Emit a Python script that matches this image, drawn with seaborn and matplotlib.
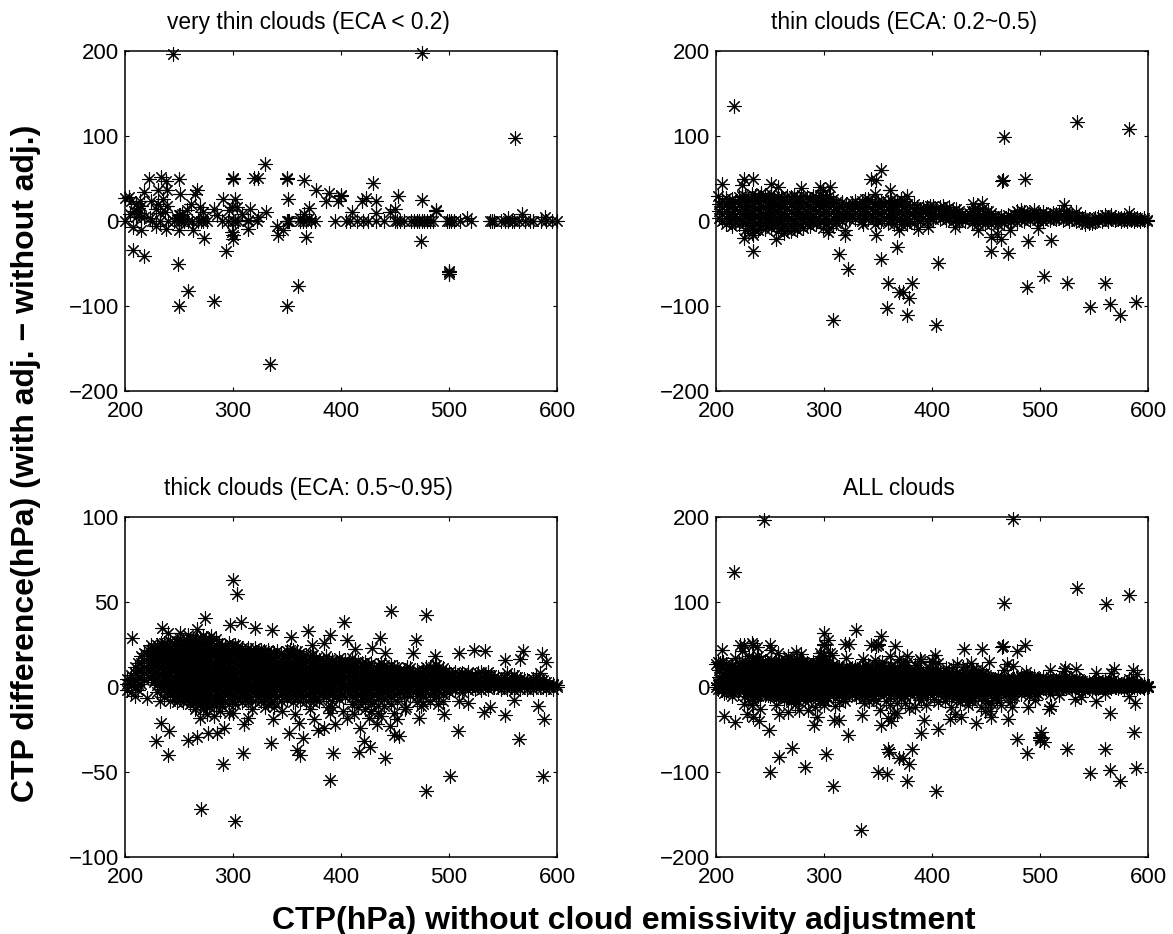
import matplotlib
matplotlib.use('Agg')
import matplotlib.pyplot as plt
import pandas as pd
import seaborn as sns

# very thin clouds
vthin_x = [244.5, 475, 561.5, 330, 222.5, 233, 238, 250, 300, 300, 319.5, 323.6, 350, 350, 366, 376.4, 389, 400, 400, 386, 397,
           430, 423, 419, 432, 453, 475, 488, 488, 410, 432, 445.6, 450, 331, 370, 350.5, 316, 323.6, 516.7, 567.7, 589, 555,
           207, 217.3, 249, 258, 250, 282, 334.4, 360, 350, 500, 500, 500, 474.4, 368, 293.6, 273, 300, 300, 299, 342, 346, 340.6,
           314, 263, 215, 207.7, 229, 238, 250,
           200, 204, 210, 212, 208, 215, 205, 210, 218, 213, 206, 214, 217.6, 224, 231, 238.6, 231, 235.5, 238.6, 232, 229, 237,
           251, 267, 265, 261, 269.5, 257, 272.6, 282, 285, 291, 302, 299, 296, 303.5, 308, 314, 251, 248, 250, 252.5, 272.6, 223, 215,
           362, 366, 370]
vthin_y = [197, 197.6, 97.6, 67, 50, 52, 47, 50, 50, 51, 51, 50.6, 50, 51, 48.6, 36, 33, 30, 31, 23, 23.5,
           44.7, 27, 23, 23, 29.4, 24.7, 12, 13, 10.6, 10, 10.6, 13.7, 10.6, 15.7, 25.5, 14.5, 4.7, 3, 8, 5, 3.5,
           -33.7, -41.6, -50, -82, -100, -93.7, -168, -77, -100, -59, -62, -60, -23, -19, -35, -20, -21, -17, -13, -16, -10, -6,
           -9, -11, -10, -7, -6, -9, -10,
           27, 28, 20, 15, 12, 18, 8, 5, 5, 10, 24, 24, 34, 24, 36, 37, 20, 26, 18, 10, 14.5, 10.6,
           32, 36, 32, 20, 16, 12.5, 10.6, 14.5, 6.7, 26, 26, 17, 12.5, 16.5, 8.6, 1, 6.7, 3, 7, 8.6, 3, 3, 5,
           3, 8, 3]
vthin_zero_x = [200, 225, 232, 240, 245, 250, 252, 255, 258, 262, 268, 270, 272, 276, 290, 295, 300, 302, 305, 314, 322, 350, 351, 352,
                362, 365, 368, 372, 376, 394, 405, 408, 415, 420, 425, 432, 440, 450, 452, 455, 458, 465, 468, 470, 472, 475, 477,
                480, 482, 485, 498, 500, 502, 505, 510, 520, 538, 540, 542, 548, 552, 555, 558, 560, 565, 570, 575, 578, 585, 590, 595, 600]

# thin clouds, single points away from the band
thin_x = [216.7, 466.7, 534, 582, 465.4, 464.8, 486, 352.4, 343.5, 348, 361, 347, 376.5, 206, 226, 234, 224, 251, 257, 278.7, 296, 306, 299.4,
          202, 522, 438, 446, 533, 582.6,
          226, 234, 234, 255.5, 314, 322, 319.4, 319, 304, 336, 348, 369, 368, 353, 359, 381.5, 369, 373, 379, 358.6, 376.5, 403.7, 406, 308.6,
          455, 455, 470, 463.5, 460, 488.5, 510, 488, 503.7, 524.6, 560, 546.6, 565, 574, 589, 387, 396.6, 421, 472, 498, 443]
thin_y = [135, 99, 117, 108.6, 48, 47, 50, 60, 49, 48, 37, 32, 30, 43, 50, 50, 42, 44, 40, 39, 40, 40, 36,
          30, 18.4, 20, 21, 10.6, 10,
          -20, -16, -35, -21, -39, -57, -16, -11, -13, -4, -16, -10, -31, -45, -73, -73, -84, -84, -90, -102, -111, -122, -49, -116,
          -19, -35, -38, -21, -15, -24, -22, -78, -65, -73, -73, -101, -98, -111, -95, -9, -7, -7, -10, -8, -11]
thin_band = [
    (203, [4, 12, 20]), (209, [-4, 4, 12, 20, 27]), (215, [-6, 2, 10, 18, 26]), (221, [-4, 4, 12, 20, 28]),
    (227, [-10, -2, 6, 14, 22, 30]), (233, [-14, -6, 2, 10, 18, 26, 32]), (239, [-10, -2, 6, 14, 22, 30]),
    (245, [-9, -1, 7, 15, 23, 31]), (251, [-8, 0, 8, 16, 24, 32]), (257, [-12, -4, 4, 12, 20, 28]),
    (263, [-14, -6, 2, 10, 18, 26]), (269, [-12, -4, 4, 12, 20, 28]), (275, [-10, -2, 6, 14, 22, 28]),
    (281, [-8, 0, 8, 16, 24, 30]), (287, [-6, 2, 10, 18, 26]), (293, [-4, 4, 12, 20, 28]),
    (299, [-8, 0, 8, 16, 24, 30]), (305, [-8, 0, 8, 16, 24, 30]), (311, [-2, 6, 14, 22]), (317, [0, 8, 16, 22]),
    (323, [2, 10, 18]), (329, [2, 10, 18, 24]), (335, [0, 8, 16, 24]), (341, [2, 10, 18, 26]), (347, [-4, 4, 12, 20]),
    (353, [0, 8, 16, 24]), (359, [-2, 6, 14, 22]), (365, [-3, 5, 13, 21]), (371, [-4, 4, 12, 20, 26]), (377, [-4, 4, 12, 20]),
    (383, [-2, 6, 14, 20]), (389, [0, 8, 14]), (395, [0, 8, 16]), (401, [2, 10, 18]), (407, [2, 10, 16]), (413, [1, 8, 14]),
    (419, [0, 6, 12]), (425, [-1, 6, 12]), (431, [0, 6]), (437, [-2, 5, 12]), (443, [-3, 4, 12]), (449, [-4, 3, 10]),
    (455, [-3, 4, 10]), (461, [-4, 3]), (467, [-2, 4]), (473, [0, 5]), (479, [-1, 6, 12]), (485, [0, 6, 11]), (491, [1, 7]),
    (497, [1, 6]), (503, [0, 6, 11]), (509, [1, 7]), (515, [2, 8]), (521, [1, 7]), (527, [0, 6]), (533, [0, 5]),
    (539, [-1, 4]), (545, [-2, 2]), (551, [-1, 3]), (557, [0, 5]), (563, [0, 5]), (569, [1, 5]), (575, [0, 3]),
    (581, [0, 4]), (587, [0, 3]), (593, [0, 2]), (599, [0, 1]),
]
# second pass over the same band, between the columns above
thin_band2 = [
    (206, [0, 8, 16, 24]), (212, [0, 8, 16, 24]), (218, [-2, 6, 14, 22]), (224, [0, 8, 16, 24, 30]),
    (230, [-6, 2, 10, 18, 26]), (236, [-10, -2, 6, 14, 22, 30]), (242, [-6, 2, 10, 18, 26, 33]),
    (248, [-5, 3, 11, 19, 27]), (254, [-4, 4, 12, 20, 28]), (260, [-8, 0, 8, 16, 24, 30]),
    (266, [-10, -2, 6, 14, 22, 29]), (272, [-8, 0, 8, 16, 24, 30]), (278, [-6, 2, 10, 18, 26]),
    (284, [-4, 4, 12, 20, 28]), (290, [-2, 6, 14, 22, 29]), (296, [0, 8, 16, 24, 31]),
    (302, [-4, 4, 12, 20, 27]), (308, [-4, 4, 12, 20, 26]), (314, [2, 10, 18]), (320, [4, 12, 20]),
    (326, [6, 14, 21]), (332, [6, 14, 20]), (338, [4, 12, 20, 26]), (344, [6, 14, 22]), (350, [0, 8, 16, 23]),
    (356, [4, 12, 20]), (362, [2, 10, 18, 25]), (368, [1, 9, 17, 24]), (374, [0, 8, 16, 23]), (380, [0, 8, 16]),
    (386, [2, 10, 17]), (392, [4, 11, 17]), (398, [4, 12, 18]), (404, [6, 14]), (410, [5, 12, 18]), (416, [4, 10, 16]),
    (422, [3, 9, 14]), (428, [2, 8]), (434, [3, 9]), (440, [1, 8, 15]), (446, [0, 7, 14]), (452, [0, 6, 12]),
    (458, [0, 6]), (464, [0, 6]), (470, [2, 7]), (476, [2, 8]), (482, [2, 8, 13]), (488, [3, 9]), (494, [3, 9, 13]),
    (500, [3, 8]), (506, [3, 8]), (512, [4, 10]), (518, [4, 10]), (524, [3, 8, 12]), (530, [2, 7]), (536, [1, 5]),
    (542, [-3, 1, 5]), (548, [-2, 1]), (554, [1, 5]), (560, [2, 7]), (566, [2, 7]), (572, [2, 4]), (578, [1, 4]),
    (584, [1, 5]), (590, [1, 4]), (596, [1, 3]),
]

# thick clouds, single points around the band
thick_x = [300, 303.5, 274, 446.6, 478.4, 403, 307, 297, 234.6, 320, 336, 369, 266.4, 206.8, 390, 405.5, 436, 469.8, 353.6, 523.5, 533, 509, 568.6,
           586, 590, 552, 565.6, 467, 487, 413, 428.6, 441, 384, 373, 251, 240, 258.7, 280,
           229, 233, 241, 240, 258, 267, 277, 285, 292, 290.5, 270, 302, 309, 335, 359, 361.6, 352, 365, 390, 392.5, 417, 421.5, 427, 440.4, 449, 454,
           500.7, 478.4, 508, 552, 564.6, 587, 588, 582, 532, 538.4, 472, 495, 560, 509, 518,
           310, 314, 337, 375, 379, 384.5, 394.7, 390, 405.5, 418, 433, 445.6, 452, 459.6, 360.7, 265, 269.5, 282, 296, 232, 220, 209,
           276, 288, 300, 318, 330, 345, 357, 371, 388, 402, 412, 426, 437, 449, 460, 474, 490]
thick_y = [63, 55, 40.6, 45, 42.4, 38, 38, 36.7, 34.7, 34.7, 33.3, 32.7, 34, 29, 30.8, 27.8, 28.8, 27.6, 29.4, 22, 21, 20, 21,
           19.6, 15, 16, 16.5, 20, 18, 22.5, 23, 20, 26, 25, 32, 32, 30.8, 30,
           -31.6, -21, -25.7, -40, -31.4, -29.4, -27, -27, -24, -45, -72, -78.6, -38.8, -33, -37, -40, -27, -30, -54.5, -39, -38, -31.6, -35, -41.8, -28, -28.6,
           -52.5, -61.4, -26, -16.7, -30.6, -52.5, -18.8, -11, -14.7, -11.8, -18, -15.7, -7.5, -8.4, -9.4,
           -22, -18, -19, -19, -25, -24, -21.6, -15.3, -18, -24, -21.6, -23, -19, -13, -21, -13, -18, -17, -15, -8.4, -6.5, -5.5,
           -16, -14, -15, -13, -12, -14, -16, -13, -12, -14, -16, -18, -17, -15, -12, -11, -10]
thick_band = [
    (202, [-2, 2, 5]), (206, [-3, 1, 4, 7]), (212, [-2, 2, 6, 10, 14]), (218, [4, 8, 12, 16, 20]), (224, [6, 10, 14, 18, 22, 25]),
    (230, [-3, 1, 5, 9, 13, 17, 21, 25]), (236, [-6, -2, 2, 6, 10, 14, 18, 22, 26]), (242, [-8, -4, 0, 4, 8, 12, 16, 20, 24, 27]),
    (248, [-9, -5, -1, 3, 7, 11, 15, 19, 23, 27]), (254, [-9, -5, -1, 3, 7, 11, 15, 19, 23, 27]), (260, [-10, -6, -2, 2, 6, 10, 14, 18, 22, 26, 28]),
    (266, [-12, -8, -4, 0, 4, 8, 12, 16, 20, 24, 28]), (272, [-13, -9, -5, -1, 3, 7, 11, 15, 19, 23, 27, 30]), (278, [-12, -8, -4, 0, 4, 8, 12, 16, 20, 24, 28]),
    (284, [-11, -7, -3, 1, 5, 9, 13, 17, 21, 25, 28]), (290, [-11, -7, -3, 1, 5, 9, 13, 17, 21, 25]), (296, [-10, -6, -2, 2, 6, 10, 14, 18, 22, 26]),
    (302, [-10, -6, -2, 2, 6, 10, 14, 18, 22, 25]), (308, [-9, -5, -1, 3, 7, 11, 15, 19, 23]), (314, [-9, -5, -1, 3, 7, 11, 15, 19, 23]),
    (320, [-8, -4, 0, 4, 8, 12, 16, 20, 23]), (326, [-8, -4, 0, 4, 8, 12, 16, 20, 22]), (332, [-10, -6, -2, 2, 6, 10, 14, 18, 22]),
    (338, [-12, -8, -4, 0, 4, 8, 12, 16, 20]), (344, [-8, -4, 0, 4, 8, 12, 16, 20]), (350, [-7, -3, 1, 5, 9, 13, 17, 21]),
    (356, [-9, -5, -1, 3, 7, 11, 15, 19, 22]), (362, [-8, -4, 0, 4, 8, 12, 16, 20]), (368, [-8, -4, 0, 4, 8, 12, 16, 19]),
    (374, [-9, -5, -1, 3, 7, 11, 15, 19]), (380, [-8, -4, 0, 4, 8, 12, 16]), (386, [-6, -2, 2, 6, 10, 14, 18]),
    (392, [-12, -8, -4, 0, 4, 8, 12, 16]), (398, [-7, -3, 1, 5, 9, 13, 17]), (404, [-6, -2, 2, 6, 10, 14, 16]),
    (410, [-10, -6, -2, 2, 6, 10, 14, 17]), (416, [-12, -8, -4, 0, 4, 8, 12, 15]), (422, [-13, -9, -5, -1, 3, 7, 11, 15]),
    (428, [-14, -10, -6, -2, 2, 6, 10, 14]), (434, [-15, -11, -7, -3, 1, 5, 9, 13]), (440, [-11, -7, -3, 1, 5, 9, 13]),
    (446, [-10, -6, -2, 2, 6, 10, 13]), (452, [-8, -4, 0, 4, 8, 12]), (458, [-6, -2, 2, 6, 10]), (464, [-5, -1, 3, 7, 11]),
    (470, [-9, -5, -1, 3, 7, 10]), (476, [-10, -6, -2, 2, 6, 10]), (482, [-8, -4, 0, 4, 8, 12]), (488, [-6, -2, 2, 6, 10, 13]),
    (494, [-8, -4, 0, 4, 8, 11]), (500, [-3, 1, 5, 9]), (506, [-2, 2, 6, 9]), (512, [-3, 1, 5, 8]), (518, [-2, 2, 6, 9]),
    (524, [-1, 3, 7]), (530, [-2, 2, 6, 9]), (536, [-1, 3, 7, 9]), (542, [0, 3, 6]), (548, [-1, 2, 5]), (554, [-1, 2, 5, 8]),
    (560, [-2, 1, 4, 7]), (566, [-1, 2, 5]), (572, [-1, 2, 4]), (578, [-1, 2, 5]), (584, [0, 2, 5, 8]), (590, [-1, 1, 3]),
    (596, [-1, 1, 2]), (600, [0, 1]),
]
# second pass over the thick band, between the columns above
thick_band2 = [
    (209, [0, 4, 8, 12]), (215, [2, 6, 10, 14, 18]), (221, [6, 10, 14, 18, 22]), (227, [3, 7, 11, 15, 19, 23]),
    (233, [-1, 3, 7, 11, 15, 19, 23, 26]), (239, [-3, 1, 5, 9, 13, 17, 21, 25]), (245, [-6, -2, 2, 6, 10, 14, 18, 22, 26]),
    (251, [-7, -3, 1, 5, 9, 13, 17, 21, 25, 28]), (257, [-8, -4, 0, 4, 8, 12, 16, 20, 24, 27]), (263, [-8, -4, 0, 4, 8, 12, 16, 20, 24, 28]),
    (269, [-10, -6, -2, 2, 6, 10, 14, 18, 22, 26, 29]), (275, [-10, -6, -2, 2, 6, 10, 14, 18, 22, 26, 29]), (281, [-9, -5, -1, 3, 7, 11, 15, 19, 23, 27]),
    (287, [-9, -5, -1, 3, 7, 11, 15, 19, 23, 26]), (293, [-8, -4, 0, 4, 8, 12, 16, 20, 24]), (299, [-8, -4, 0, 4, 8, 12, 16, 20, 24]),
    (305, [-7, -3, 1, 5, 9, 13, 17, 21, 24]), (311, [-7, -3, 1, 5, 9, 13, 17, 21]), (317, [-6, -2, 2, 6, 10, 14, 18, 22]),
    (323, [-6, -2, 2, 6, 10, 14, 18, 21]), (329, [-6, -2, 2, 6, 10, 14, 18, 21]), (335, [-8, -4, 0, 4, 8, 12, 16, 20]),
    (341, [-6, -2, 2, 6, 10, 14, 18, 21]), (347, [-5, -1, 3, 7, 11, 15, 19]), (353, [-5, -1, 3, 7, 11, 15, 19, 22]),
    (359, [-6, -2, 2, 6, 10, 14, 18, 21]), (365, [-6, -2, 2, 6, 10, 14, 18]), (371, [-6, -2, 2, 6, 10, 14, 18]),
    (377, [-7, -3, 1, 5, 9, 13, 17]), (383, [-4, 0, 4, 8, 12, 16]), (389, [-4, 0, 4, 8, 12, 16]), (395, [-5, -1, 3, 7, 11, 15]),
    (401, [-4, 0, 4, 8, 12, 15]), (407, [-4, 0, 4, 8, 12, 15]), (413, [-6, -2, 2, 6, 10, 14]), (419, [-6, -2, 2, 6, 10, 14]),
    (425, [-7, -3, 1, 5, 9, 13]), (431, [-8, -4, 0, 4, 8, 12]), (437, [-5, -1, 3, 7, 11, 14]), (443, [-5, -1, 3, 7, 11]),
    (449, [-4, 0, 4, 8, 12]), (455, [-3, 1, 5, 9]), (461, [-3, 1, 5, 9, 12]), (467, [-3, 1, 5, 9]), (473, [-4, 0, 4, 8]),
    (479, [-3, 1, 5, 9, 12]), (485, [-3, 1, 5, 9, 12]), (491, [-3, 1, 5, 9, 12]), (497, [-2, 2, 6, 9]), (503, [-1, 3, 7]),
    (509, [0, 4, 7]), (515, [0, 3, 7]), (521, [0, 4, 7]), (527, [0, 4, 8]), (533, [0, 4, 7]), (539, [1, 4, 7]),
    (545, [0, 3, 6]), (551, [0, 3, 6]), (557, [0, 3, 6]), (563, [0, 3, 6]), (569, [0, 3, 5]), (575, [0, 3]), (581, [0, 3, 6]),
    (587, [0, 2, 4]), (593, [0, 2]),
]
# third pass, fills what is still white in the core of the thick band
thick_band3 = [
    (228, [5, 9, 13, 17, 21]), (234, [1, 5, 9, 13, 17, 21, 25]), (241, [-1, 3, 7, 11, 15, 19, 23]), (247, [-3, 1, 5, 9, 13, 17, 21, 25]),
    (253, [-4, 0, 4, 8, 12, 16, 20, 24]), (259, [-5, -1, 3, 7, 11, 15, 19, 23]), (265, [-6, -2, 2, 6, 10, 14, 18, 22, 26]),
    (271, [-7, -3, 1, 5, 9, 13, 17, 21, 25]), (277, [-7, -3, 1, 5, 9, 13, 17, 21, 25]), (283, [-6, -2, 2, 6, 10, 14, 18, 22]),
    (289, [-5, -1, 3, 7, 11, 15, 19, 23]), (295, [-4, 0, 4, 8, 12, 16, 20]), (301, [-4, 0, 4, 8, 12, 16, 20]),
    (307, [-3, 1, 5, 9, 13, 17, 20]), (313, [-3, 1, 5, 9, 13, 17]), (319, [-2, 2, 6, 10, 14, 18]), (325, [-2, 2, 6, 10, 14, 18]),
    (331, [-3, 1, 5, 9, 13, 17]), (337, [-2, 2, 6, 10, 14, 18]), (343, [-1, 3, 7, 11, 15]), (349, [-1, 3, 7, 11, 15, 18]),
    (355, [-2, 2, 6, 10, 14, 18]), (361, [-2, 2, 6, 10, 14, 17]), (367, [-2, 2, 6, 10, 14]), (373, [-3, 1, 5, 9, 13]),
    (379, [-2, 2, 6, 10, 14]), (385, [-1, 3, 7, 11]), (391, [-2, 2, 6, 10, 14]), (397, [-1, 3, 7, 11, 14]), (403, [0, 4, 8, 12]),
    (409, [-1, 3, 7, 11]), (415, [-2, 2, 6, 10]), (421, [-3, 1, 5, 9, 12]), (427, [-3, 1, 5, 9]), (433, [-2, 2, 6, 10]),
    (439, [-1, 3, 7, 11]), (445, [-1, 3, 7, 10]), (451, [0, 4, 8]), (457, [0, 4, 8]), (463, [0, 4, 8]), (469, [0, 4, 7]),
    (475, [0, 4, 8]), (481, [0, 3, 7]), (487, [0, 4, 8]), (493, [1, 5, 8]), (499, [0, 4, 7]), (505, [1, 4]), (511, [1, 4, 7]),
    (517, [1, 4]), (523, [1, 5]), (529, [1, 4]), (535, [1, 4]), (541, [1, 4]),
]

titles = ['very thin clouds (ECA < 0.2)', 'thin clouds (ECA: 0.2~0.5)', 'thick clouds (ECA: 0.5~0.95)', 'ALL clouds']
x_ticks = [200, 300, 400, 500, 600]
y_ticks_wide = [-200, -100, 0, 100, 200]
y_ticks_thick = [-100, -50, 0, 50, 100]


def make_frame(xs, ys, band):
    rows = list(zip(xs, ys))
    for x, col in band:
        rows += [(x, y) for y in col]
    return pd.DataFrame(rows, columns=['ctp', 'diff'])


vthin = make_frame(vthin_x, vthin_y, [(x, [0]) for x in vthin_zero_x])
thin = make_frame(thin_x, thin_y, thin_band + thin_band2)
thick = make_frame(thick_x, thick_y, thick_band + thick_band2 + thick_band3)
all_clouds = pd.concat([vthin, thin, thick])

sns.set_style('white')
plt.rcParams['font.family'] = ['Liberation Sans', 'DejaVu Sans']

W, H = 1173, 934
fig = plt.figure(figsize=(W / 100, H / 100), dpi=100)

panels = [
    (vthin, 125, 51, y_ticks_wide, 0.425, titles[0]),
    (thin, 716, 51, y_ticks_wide, 0.436, titles[1]),
    (thick, 125, 517, y_ticks_thick, 0.425, titles[2]),
    (all_clouds, 716, 517, y_ticks_wide, 0.424, titles[3]),
]

for df, left, top, yt, tx, title in panels:
    ax = fig.add_axes([left / W, 1 - (top + 340) / H, 432 / W, 340 / H])
    sns.scatterplot(data=df, x='ctp', y='diff', marker=(8, 2, 0), color='black', s=92,
                    linewidth=0.8, clip_on=False, zorder=3, ax=ax)
    ax.set_xlim(200, 600)
    ax.set_ylim(yt[0], yt[-1])
    ax.set_xticks(x_ticks)
    ax.set_yticks(yt)
    ax.set_xlabel('')
    ax.set_ylabel('')
    ax.tick_params(direction='in', length=3, width=0.8, top=True, right=True, bottom=True, left=True,
                   labelsize=16, color='black', labelcolor='black')
    ax.tick_params(axis='x', pad=7.5)
    ax.tick_params(axis='y', pad=4.5)
    for s in ax.spines.values():
        s.set_visible(True)
        s.set_color('black')
        s.set_linewidth(1.1)
    ax.set_title(title, x=tx, fontsize=16.4, pad=16, color='black')

fig.text(624 / W, 1 - 929 / H, 'CTP(hPa) without cloud emissivity adjustment', ha='center', va='baseline',
         fontsize=23, fontweight='bold', color='black')
fig.text(26 / W, 1 - 463 / H, 'CTP difference(hPa) (with adj. \u2212 without adj.)', ha='center', va='center',
         rotation=90, fontsize=23, fontweight='bold', color='black')

fig.savefig('out.png', dpi=100)
